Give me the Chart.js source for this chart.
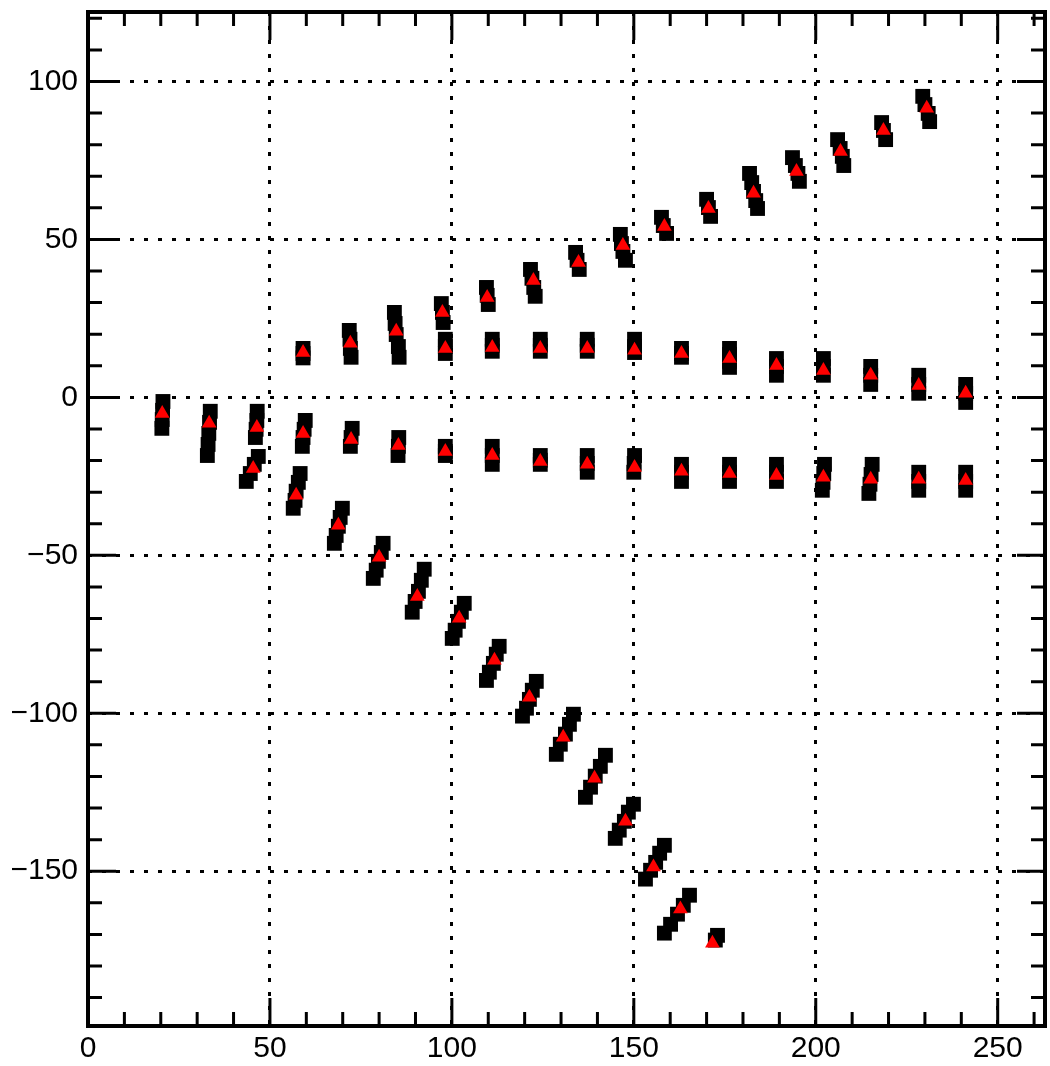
<!DOCTYPE html>
<html>
<head>
<meta charset="utf-8">
<script src="https://cdn.jsdelivr.net/npm/chart.js@4.4.1/dist/chart.umd.min.js"></script>
<style>
  html, body { margin: 0; padding: 0; background: #fff; }
  #wrap { width: 1050px; height: 1066px; }
</style>
</head>
<body>
<div id="wrap"><canvas id="myChart" width="1050" height="1066"></canvas></div>
<script>
// black squares, one cluster per line
const squareX = [
    20.6, 20.5, 20.4, 20.3,
    33.6, 33.4, 33.2, 33.0, 32.8,
    46.5, 46.4, 46.2, 46.0,
    46.8, 45.7, 44.6, 43.5,
    59.7, 59.4, 59.1, 58.9,
    58.3, 57.8, 57.2, 56.9, 56.4,
    72.6, 72.3, 72.1,
    69.9, 69.3, 68.8, 68.2, 67.7,
    85.4, 85.3, 85.2,
    81.1, 80.6, 79.8, 79.2, 78.4,
    98.2, 98.2, 98.2,
    92.4, 91.6, 90.8, 89.9, 89.1,
    111.1, 111.1, 111.1,
    103.4, 102.6, 101.8, 100.9, 100.1,
    124.3, 124.3, 124.3,
    113.0, 112.2, 111.4, 110.3, 109.5,
    137.2, 137.2, 137.2,
    123.2, 122.1, 121.3, 120.5, 119.4,
    150.2, 150.1, 150.0,
    133.4, 132.3, 131.2, 129.8, 128.7,
    163.1, 163.1, 163.1,
    142.2, 140.8, 139.4, 138.1, 136.7,
    176.3, 176.3, 176.3,
    149.9, 148.5, 147.4, 146.0, 144.9,
    189.2, 189.2, 189.2,
    158.4, 157.1, 156.0, 154.6, 153.2,
    202.4, 202.2, 202.0, 201.8,
    165.3, 163.6, 162.0, 160.1, 158.4,
    215.5, 215.2, 214.9, 214.6,
    173.0, 172.4,
    228.3, 228.3, 228.3,
    241.2, 241.2, 241.2,
    59.1, 59.1, 59.1,
    71.8, 72.0, 72.1, 72.3,
    84.2, 84.4, 84.7, 85.3, 85.5,
    98.2, 98.2, 98.2,
    97.1, 97.4, 97.6,
    111.1, 111.1, 111.1,
    109.5, 109.7, 110.0,
    124.3, 124.3, 124.3,
    121.6, 122.0, 122.5, 122.9,
    137.2, 137.2, 137.2,
    134.0, 134.4, 135.0,
    150.2, 150.2, 150.2,
    146.3, 146.6, 147.0, 147.7,
    163.1, 163.1, 163.1,
    157.6, 158.1, 159.0,
    176.3, 176.3, 176.3, 176.3,
    170.0, 170.5, 171.1,
    189.2, 189.2, 189.2,
    181.8, 182.4, 182.9, 183.5, 184.0,
    202.1, 202.1, 202.1,
    193.6, 194.4, 195.1, 195.5,
    215.1, 215.1, 215.1,
    206.0, 206.7, 207.3, 207.7,
    228.3, 228.3, 228.3,
    218.1, 218.6, 219.2,
    241.2, 241.2, 241.2,
    229.4, 230.0, 230.9, 231.3
];
const squareY = [
    -1.3, -4.1, -7.0, -9.8,
    -4.4, -7.9, -11.4, -14.9, -18.4,
    -4.4, -7.3, -10.1, -12.7,
    -18.7, -21.2, -24.1, -26.6,
    -7.3, -10.1, -12.7, -15.5,
    -24.1, -26.9, -29.7, -32.6, -35.1,
    -9.8, -12.7, -15.5,
    -35.1, -38.0, -40.8, -43.7, -46.2,
    -12.7, -15.5, -18.4,
    -46.2, -49.1, -51.9, -54.7, -57.3,
    -15.5, -17.1, -18.4,
    -54.4, -57.9, -61.4, -64.6, -68.0,
    -15.5, -18.4, -21.2,
    -65.2, -68.0, -70.9, -73.7, -76.3,
    -18.4, -19.9, -21.2,
    -78.8, -81.3, -84.2, -87.0, -89.6,
    -18.4, -20.9, -23.7,
    -89.9, -92.7, -95.6, -98.4, -100.9,
    -18.4, -20.9, -23.7,
    -100.3, -103.5, -106.6, -109.8, -113.0,
    -21.2, -23.7, -26.6,
    -113.3, -116.8, -119.9, -123.4, -126.6,
    -21.2, -23.7, -26.6,
    -128.8, -131.3, -134.2, -137.0, -139.6,
    -21.2, -23.7, -26.6,
    -141.8, -144.3, -147.2, -149.7, -152.5,
    -21.2, -24.1, -26.9, -29.4,
    -157.6, -160.8, -163.6, -166.8, -169.6,
    -21.2, -24.4, -27.5, -30.4,
    -170.3, -171.8,
    -23.7, -26.6, -29.4,
    -23.7, -26.6, -29.4,
    15.5, 13.9, 12.5,
    21.2, 18.4, 15.5, 12.7,
    26.9, 23.4, 19.9, 16.1, 12.7,
    18.4, 16.1, 13.9,
    29.7, 26.9, 23.7,
    18.4, 16.5, 14.6,
    34.8, 32.3, 29.4,
    18.4, 16.5, 14.6,
    40.5, 37.7, 34.8, 32.0,
    18.4, 16.5, 14.6,
    45.9, 43.4, 40.5,
    18.4, 16.1, 14.2,
    51.6, 48.7, 46.2, 43.4,
    15.5, 13.9, 12.7,
    57.0, 54.4, 51.9,
    15.5, 13.6, 11.4, 9.5,
    62.7, 60.1, 57.3,
    12.3, 9.8, 7.0,
    70.9, 68.0, 65.2, 62.3, 59.8,
    12.3, 9.8, 7.0,
    75.9, 73.4, 70.9, 68.4,
    9.8, 7.0, 4.1,
    81.6, 78.8, 76.3, 73.4,
    7.0, 4.1, 1.3,
    87.0, 84.5, 81.6,
    4.1, 1.3, -1.6,
    95.3, 92.7, 89.9, 87.3
];

// red triangles, one per cluster
const triangleX = [
    20.4, 33.3, 46.4, 45.4, 59.1, 57.2, 72.3, 68.8, 85.3, 80.0,
    98.2, 90.5, 111.1, 102.0, 124.3, 111.7, 137.2, 121.3, 150.2, 130.6,
    163.1, 139.2, 176.3, 147.7, 189.2, 155.4, 202.1, 162.8, 215.1, 171.6,
    228.3, 241.2,
    59.1, 72.1, 84.7, 98.2, 97.4, 111.1, 109.7, 124.3, 122.4, 137.2,
    134.8, 150.2, 147.0, 163.1, 158.4, 176.3, 170.5, 189.2, 182.9, 202.1,
    194.7, 215.1, 206.8, 228.3, 218.6, 241.2, 230.5
];
const triangleY = [
    -5.1, -8.2, -9.5, -22.5, -11.4, -31.0, -13.3, -40.5, -15.2, -50.6,
    -17.1, -63.0, -18.4, -69.9, -20.3, -83.2, -21.2, -94.9, -22.2, -107.6,
    -23.4, -120.6, -24.1, -134.2, -24.7, -148.7, -25.3, -162.0, -25.9, -172.8,
    -25.9, -26.3,
    14.2, 17.1, 20.9, 15.5, 26.9, 15.8, 31.6, 15.5, 37.0, 15.5,
    42.7, 14.9, 48.1, 13.9, 54.1, 12.3, 59.8, 10.1, 64.6, 8.5,
    71.5, 7.0, 77.8, 3.8, 84.5, 1.3, 91.5
];

const xTickLabels = [0, 50, 100, 150, 200, 250];
const yTickLabels = [-150, -100, -50, 0, 50, 100];

function toPoints(xs, ys) {
    let pts = [];
    for (let i = 0; i < xs.length; i++) {
        pts.push({x: xs[i], y: ys[i]});
    }
    return pts;
}

// ROOT style frame with inward ticks on all four sides
const frameTicks = {
    id: 'frameTicks',
    afterDraw(chart) {
        const ctx = chart.ctx;
        const a = chart.chartArea;
        const xs = chart.scales.x;
        const ys = chart.scales.y;
        ctx.save();
        ctx.strokeStyle = '#000';
        ctx.lineWidth = 3;
        ctx.beginPath();
        for (let v = 0; v <= xs.max; v += 10) {
            let px = xs.getPixelForValue(v);
            let len = (v % 50 == 0) ? 28 : 14;
            ctx.moveTo(px, a.bottom);
            ctx.lineTo(px, a.bottom - len);
            ctx.moveTo(px, a.top);
            ctx.lineTo(px, a.top + len);
        }
        for (let v = -190; v <= ys.max; v += 10) {
            let py = ys.getPixelForValue(v);
            let len = (v % 50 == 0) ? 28 : 14;
            ctx.moveTo(a.left, py);
            ctx.lineTo(a.left + len, py);
            ctx.moveTo(a.right, py);
            ctx.lineTo(a.right - len, py);
        }
        ctx.stroke();
        ctx.lineWidth = 4;
        ctx.strokeRect(a.left, a.top, a.right - a.left, a.bottom - a.top);
        ctx.restore();
    }
};

const tickFont = {family: "'Liberation Sans', Arial, Helvetica, sans-serif", size: 30};

var ctx = document.getElementById('myChart').getContext('2d');
var myChart = new Chart(ctx, {
    type: 'scatter',
    data: {
        datasets: [{
                data: toPoints(triangleX, triangleY),
                pointStyle: 'triangle',
                pointRadius: 8.5,
                pointHoverRadius: 8.5,
                borderWidth: 0,
                backgroundColor: '#ff0000',
                borderColor: '#ff0000'
            },
            {
                data: toPoints(squareX, squareY),
                pointStyle: 'rect',
                pointRadius: 10.5,
                pointHoverRadius: 10.5,
                borderWidth: 0,
                backgroundColor: '#000000',
                borderColor: '#000000'
            }
        ]
    },
    options: {
        responsive: false,
        animation: false,
        events: [],
        layout: {
            autoPadding: false,
            padding: {top: 12, right: 5, left: 0, bottom: 0}
        },
        plugins: {
            legend: {display: false},
            tooltip: {enabled: false}
        },
        scales: {
            x: {
                type: 'linear',
                position: 'bottom',
                min: 0,
                max: 263,
                afterBuildTicks: s => { s.ticks = xTickLabels.map(v => ({value: v})); },
                afterFit: s => { s.height = 40; s.paddingLeft = 0; s.paddingRight = 0; },
                ticks: {
                    font: tickFont,
                    color: '#000',
                    padding: 5,
                    maxRotation: 0,
                    autoSkip: false
                },
                grid: {
                    color: '#000',
                    lineWidth: 3,
                    drawTicks: false
                },
                border: {display: false, dash: [4, 10]}
            },
            y: {
                type: 'linear',
                min: -199,
                max: 122,
                afterBuildTicks: s => { s.ticks = yTickLabels.map(v => ({value: v})); },
                afterFit: s => { s.width = 88; s.paddingTop = 0; s.paddingBottom = 0; },
                ticks: {
                    font: tickFont,
                    color: '#000',
                    padding: 10,
                    autoSkip: false,
                    callback: v => String(v).replace('-', '\u2212')
                },
                grid: {
                    color: '#000',
                    lineWidth: 3,
                    drawTicks: false
                },
                border: {display: false, dash: [4, 10]}
            }
        }
    },
    plugins: [frameTicks]
});
</script>
</body>
</html>
